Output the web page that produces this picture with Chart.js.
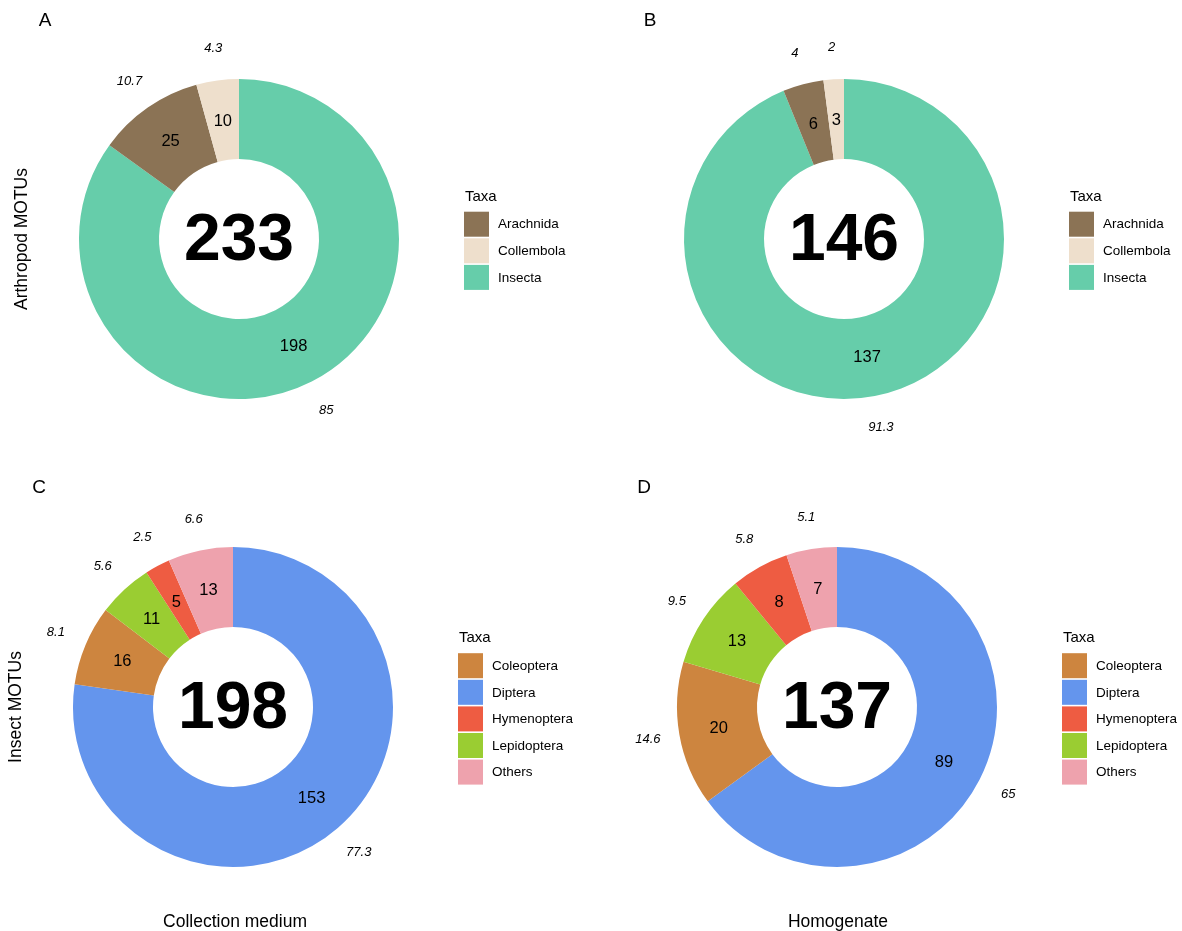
<!DOCTYPE html>
<html>
<head>
<meta charset="utf-8">
<style>
  html, body { margin: 0; padding: 0; background: #ffffff; width: 1182px; height: 931px; overflow: hidden; }
  canvas { position: absolute; }
</style>
<script src="https://cdn.jsdelivr.net/npm/chart.js@4.4.1/dist/chart.umd.min.js"></script>
</head>
<body>
<canvas id="cA" width="591" height="466" style="left:0px;top:0px"></canvas>
<canvas id="cB" width="591" height="466" style="left:591px;top:0px"></canvas>
<canvas id="cC" width="591" height="465" style="left:0px;top:466px"></canvas>
<canvas id="cD" width="591" height="465" style="left:591px;top:466px"></canvas>
<script>
// ---- Data ----
const arthropodTaxa = ['Insecta', 'Arachnida', 'Collembola'];
const arthropodColors = ['#66CDAA', '#8B7355', '#EEDFCC'];
const collectionArthropod = [198, 25, 10];
const collectionArthropodPct = ['85', '10.7', '4.3'];
const homogenateArthropod = [137, 6, 3];
const homogenateArthropodPct = ['91.3', '4', '2'];

const insectTaxa = ['Diptera', 'Coleoptera', 'Lepidoptera', 'Hymenoptera', 'Others'];
const insectColors = ['#6495ED', '#CD853F', '#9ACD32', '#EE5C42', '#EEA2AD'];
const collectionInsect = [153, 16, 11, 5, 13];
const collectionInsectPct = ['77.3', '8.1', '5.6', '2.5', '6.6'];
const homogenateInsect = [89, 20, 13, 8, 7];
const homogenateInsectPct = ['65', '14.6', '9.5', '5.8', '5.1'];

const panelTags = ['A', 'B', 'C', 'D'];
const rowTitles = ['Arthropod MOTUs', 'Insect MOTUs'];
const colTitles = ['Collection medium', 'Homogenate'];
const legendTitle = 'Taxa';

// ---- Layout ----
const FONT = '"Liberation Sans", Arial, Helvetica, sans-serif';
const R = 160;
const panels = [
  { id: 'cA', left: 0,   top: 0,   w: 591, h: 466, cx: 239, cy: 239, tag: panelTags[0], tagX: 45,  tagY: 20,
    labels: arthropodTaxa, colors: arthropodColors, values: collectionArthropod, pct: collectionArthropodPct,
    yTitle: rowTitles[0], yTitleX: 22, xTitle: null },
  { id: 'cB', left: 591, top: 0,   w: 591, h: 466, cx: 844, cy: 239, tag: panelTags[1], tagX: 650, tagY: 20,
    labels: arthropodTaxa, colors: arthropodColors, values: homogenateArthropod, pct: homogenateArthropodPct,
    yTitle: null, xTitle: null },
  { id: 'cC', left: 0,   top: 466, w: 591, h: 465, cx: 233, cy: 707, tag: panelTags[2], tagX: 39,  tagY: 487,
    labels: insectTaxa, colors: insectColors, values: collectionInsect, pct: collectionInsectPct,
    yTitle: rowTitles[1], yTitleX: 16, xTitle: colTitles[0], xTitleX: 235 },
  { id: 'cD', left: 591, top: 466, w: 591, h: 465, cx: 837, cy: 707, tag: panelTags[3], tagX: 644, tagY: 487,
    labels: insectTaxa, colors: insectColors, values: homogenateInsect, pct: homogenateInsectPct,
    yTitle: null, xTitle: colTitles[1], xTitleX: 838 }
];

function makePanel(p) {
  const lcx = p.cx - p.left, lcy = p.cy - p.top;
  const padding = { left: lcx - R, top: lcy - R, right: p.w - lcx - R, bottom: p.h - lcy - R };
  const total = p.values.reduce((a, b) => a + b, 0);

  const annotate = {
    id: 'annotate_' + p.id,
    afterDatasetsDraw(chart) {
      const ctx = chart.ctx;
      const meta = chart.getDatasetMeta(0);
      ctx.save();
      ctx.fillStyle = '#000';
      ctx.textAlign = 'center';
      ctx.textBaseline = 'middle';
      meta.data.forEach((arc, i) => {
        const pr = arc.getProps(['x', 'y', 'startAngle', 'endAngle', 'innerRadius', 'outerRadius'], true);
        const mid = (pr.startAngle + pr.endAngle) / 2;
        const rc = (pr.innerRadius + pr.outerRadius) / 2;
        ctx.font = '16.5px ' + FONT;
        ctx.fillText(String(p.values[i]), pr.x + Math.cos(mid) * rc, pr.y + Math.sin(mid) * rc + 1);
        const ro = pr.outerRadius + 32;
        ctx.font = 'italic 13px ' + FONT;
        ctx.fillText(p.pct[i], pr.x + Math.cos(mid) * ro, pr.y + Math.sin(mid) * ro);
      });
      // center total
      const c0 = meta.data[0];
      ctx.font = 'bold 66px ' + FONT;
      ctx.fillText(String(total), c0.x, c0.y + 3);

      // panel tag
      ctx.font = '19px ' + FONT;
      ctx.fillText(p.tag, p.tagX - p.left, p.tagY - p.top + 1);

      // axis titles
      ctx.font = '17.5px ' + FONT;
      if (p.xTitle) {
        ctx.fillText(p.xTitle, p.xTitleX - p.left, 922 - p.top);
      }
      if (p.yTitle) {
        ctx.save();
        ctx.translate(p.yTitleX - p.left, c0.y);
        ctx.rotate(-Math.PI / 2);
        ctx.fillText(p.yTitle, 0, 0);
        ctx.restore();
      }

      // legend (alphabetical, as in the reference)
      const order = p.labels.map((l, i) => i).sort((a, b) => p.labels[a].localeCompare(p.labels[b]));
      const n = order.length;
      const lx = c0.x + R + 65;
      const boxTop = c0.y - 27.3 - (n - 3) * 13.25;
      ctx.textAlign = 'left';
      ctx.font = '15px ' + FONT;
      ctx.textBaseline = 'alphabetic';
      ctx.fillText(legendTitle, lx + 1, boxTop - 11);
      ctx.textBaseline = 'middle';
      ctx.font = '13.5px ' + FONT;
      order.forEach((idx, k) => {
        const y = boxTop + k * 26.6;
        ctx.fillStyle = p.colors[idx];
        ctx.fillRect(lx, y, 25, 25);
        ctx.fillStyle = '#000';
        ctx.fillText(p.labels[idx], lx + 34, y + 13);
      });
      ctx.restore();
    }
  };

  return new Chart(document.getElementById(p.id), {
    type: 'doughnut',
    data: {
      labels: p.labels,
      datasets: [{
        data: p.values,
        backgroundColor: p.colors,
        borderWidth: 0,
        hoverBorderWidth: 0,
        hoverOffset: 0,
        offset: 0
      }]
    },
    options: {
      responsive: false,
      animation: false,
      cutout: '50%',
      rotation: 0,
      circumference: 360,
      layout: { padding: padding },
      events: [],
      plugins: { legend: { display: false }, tooltip: { enabled: false } }
    },
    plugins: [annotate]
  });
}

panels.forEach(makePanel);
</script>
</body>
</html>
